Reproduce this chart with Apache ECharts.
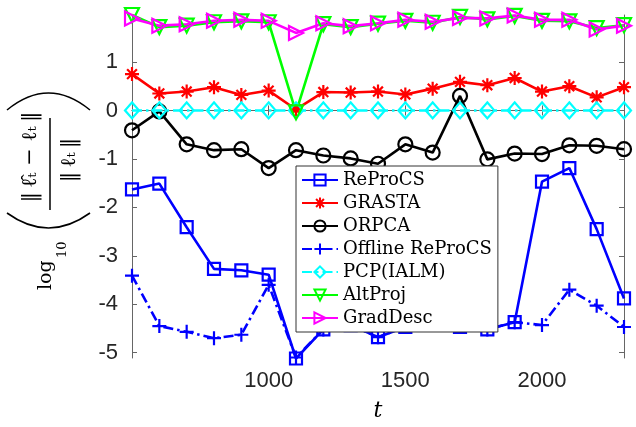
<!DOCTYPE html>
<html>
<head>
<meta charset="utf-8">
<script src="https://cdn.jsdelivr.net/npm/echarts@6/dist/echarts.min.js"></script>
<style>
html, body { margin: 0; padding: 0; background: #fff; }
#errChart { width: 636px; height: 427px; }
</style>
</head>
<body>
<div id="errChart"></div>
<script>
// time instants t
const tValues = [500, 600, 700, 800, 900, 1000, 1100, 1200, 1300, 1400, 1500, 1600, 1700, 1800, 1900, 2000, 2100, 2200, 2300];

// log10 of normalized subspace error
const reprocs = [-1.63, -1.51, -2.41, -3.27, -3.30, -3.39, -5.12, -4.52, -4.43, -4.68, -4.47, -4.30, -4.47, -4.52, -4.37, -1.47, -1.19, -2.45, -3.88];
const grasta = [0.75, 0.35, 0.39, 0.48, 0.32, 0.41, 0.02, 0.38, 0.37, 0.39, 0.33, 0.45, 0.59, 0.52, 0.67, 0.39, 0.50, 0.27, 0.48];
const orpca = [-0.41, -0.02, -0.70, -0.82, -0.80, -1.19, -0.82, -0.93, -0.99, -1.10, -0.70, -0.87, 0.30, -1.01, -0.89, -0.90, -0.72, -0.73, -0.80];
const offlineReprocs = [-3.41, -4.45, -4.57, -4.70, -4.63, -3.60, -5.10, -4.52, -4.43, -4.68, -4.47, -4.30, -4.47, -4.52, -4.37, -4.43, -3.70, -4.03, -4.47];
const pcp = [0, 0, 0, 0, 0, 0, 0, 0, 0, 0, 0, 0, 0, 0, 0, 0, 0, 0, 0];
const altProj = [1.97, 1.72, 1.75, 1.82, 1.84, 1.82, -0.04, 1.78, 1.72, 1.79, 1.85, 1.81, 1.93, 1.88, 1.95, 1.85, 1.84, 1.70, 1.76];
const gradDesc = [1.90, 1.75, 1.78, 1.85, 1.87, 1.85, 1.60, 1.80, 1.74, 1.80, 1.87, 1.83, 1.91, 1.90, 1.96, 1.87, 1.87, 1.67, 1.75];

const xTicks = [1000, 1500, 2000];
const yTicks = [-5, -4, -3, -2, -1, 0, 1];

const chart = echarts.init(document.getElementById('errChart'));

// marker shapes (matlab style)
const SYM_STAR = 'path://M0,50L100,50M50,0L50,100M15,15L85,85M85,15L15,85';
const SYM_PLUS = 'path://M0,50L100,50M50,0L50,100';
const SYM_DOWN = 'path://M0,0L100,0L50,90Z';
const SYM_RIGHT = 'path://M0,0L90,50L0,100Z';
const DASH_DOT = [10, 4, 2.5, 4];

function makeSeries(name, values, color, symbol, size, dash) {
    return {
        name: name,
        type: 'line',
        data: tValues.map(function (t, i) { return [t, values[i]]; }),
        symbol: symbol,
        symbolSize: size,
        showAllSymbol: true,
        clip: false,
        itemStyle: {
            color: 'none',
            borderColor: color,
            borderWidth: 2.2
        },
        lineStyle: {
            color: color,
            width: 2.6,
            type: dash || 'solid'
        },
        emphasis: { disabled: true }
    };
}

const series = [
    makeSeries('ReProCS', reprocs, '#0000ff', 'rect', 12),
    makeSeries('GRASTA', grasta, '#ff0000', SYM_STAR, 14),
    makeSeries('ORPCA', orpca, '#000000', 'circle', 14),
    makeSeries('Offline ReProCS', offlineReprocs, '#0000ff', SYM_PLUS, 14, DASH_DOT),
    makeSeries('PCP(IALM)', pcp, '#00ffff', 'diamond', [14, 16], DASH_DOT),
    makeSeries('AltProj', altProj, '#00ff00', SYM_DOWN, 14),
    makeSeries('GradDesc', gradDesc, '#ff00ff', SYM_RIGHT, 14)
];

const axisColor = '#666666';
const labelFont = {
    fontFamily: 'Liberation Sans',
    fontSize: 22,
    color: '#262626',
    formatter: function (v) { return String(v); }
};

const xAxis = [{
    type: 'value',
    min: 500,
    max: 2300,
    name: 't',
    nameLocation: 'middle',
    nameGap: 42,
    nameTextStyle: {
        fontFamily: 'DejaVu Serif',
        fontStyle: 'italic',
        fontSize: 22,
        color: '#000'
    },
    axisLine: { show: true, lineStyle: { color: axisColor, width: 1 } },
    axisTick: { show: true, inside: true, length: 5, customValues: xTicks, lineStyle: { color: axisColor } },
    axisLabel: Object.assign({ margin: 12, customValues: xTicks }, labelFont),
    splitLine: { show: false }
}, {
    type: 'value',
    position: 'top',
    min: 500,
    max: 2300,
    axisLine: { show: true, lineStyle: { color: axisColor, width: 1 } },
    axisTick: { show: true, inside: true, length: 5, customValues: xTicks, lineStyle: { color: axisColor } },
    axisLabel: { show: false },
    splitLine: { show: false }
}];

const yAxis = [{
    type: 'value',
    min: -5.11,
    max: 1.97,
    axisLine: { show: true, lineStyle: { color: axisColor, width: 1 } },
    axisTick: { show: true, inside: true, length: 5, customValues: yTicks, lineStyle: { color: axisColor } },
    axisLabel: Object.assign({ margin: 14, customValues: yTicks }, labelFont),
    splitLine: { show: false }
}, {
    type: 'value',
    position: 'right',
    min: -5.11,
    max: 1.97,
    axisLine: { show: true, lineStyle: { color: axisColor, width: 1 } },
    axisTick: { show: true, inside: true, length: 5, customValues: yTicks, lineStyle: { color: axisColor } },
    axisLabel: { show: false },
    splitLine: { show: false }
}];

const legend = {
    orient: 'vertical',
    left: 296,
    top: 166,
    padding: [5, 6, 5, 5],
    itemWidth: 36,
    itemHeight: 14,
    itemGap: 5,
    backgroundColor: '#ffffff',
    borderColor: '#333333',
    borderWidth: 1,
    textStyle: {
        fontFamily: 'DejaVu Serif',
        fontSize: 18,
        lineHeight: 18,
        color: '#000'
    },
    data: series.map(function (s) { return s.name; })
};

// y label: log10( ||l^_t - l_t|| / ||l_t|| ), drawn rotated
const yLabel = {
    type: 'group',
    x: 50,
    y: 164,
    rotation: Math.PI / 2,
    children: [
        { type: 'line', shape: { x1: -46, y1: 0, x2: 46, y2: 0 }, style: { stroke: '#000', lineWidth: 1.5 } },
        { type: 'text', style: { text: '\u2016\u2009\u2113\u0302\u209c \u2212 \u2113\u209c\u2009\u2016', x: 7, y: -19, font: '21px "DejaVu Serif"', fill: '#000', align: 'center', verticalAlign: 'middle' } },
        { type: 'text', style: { text: '\u2016\u2009\u2113\u209c\u2009\u2016', x: 4, y: 20, font: '21px "DejaVu Serif"', fill: '#000', align: 'center', verticalAlign: 'middle' } },
        { type: 'bezierCurve', shape: { x1: 54, y1: -43, x2: 54, y2: 40, cpx1: 88, cpy1: -1.5 }, style: { stroke: '#000', lineWidth: 1.6, fill: null } },
        { type: 'bezierCurve', shape: { x1: -49, y1: -43, x2: -49, y2: 40, cpx1: -79, cpy1: -1.5 }, style: { stroke: '#000', lineWidth: 1.6, fill: null } },
        { type: 'text', style: { text: 'log', x: -126, y: -3.5, font: '19px "DejaVu Serif"', fill: '#000', align: 'left', verticalAlign: 'middle' } },
        { type: 'text', style: { text: '10', x: -94, y: 12.5, font: '13px "DejaVu Serif"', fill: '#000', align: 'left', verticalAlign: 'middle' } }
    ]
};

const option = {
    animation: false,
    backgroundColor: '#fff',
    grid: { left: 132, right: 12, top: 15, bottom: 58 },
    xAxis: xAxis,
    yAxis: yAxis,
    legend: legend,
    graphic: [yLabel],
    series: series
};

chart.setOption(option);
</script>
</body>
</html>
